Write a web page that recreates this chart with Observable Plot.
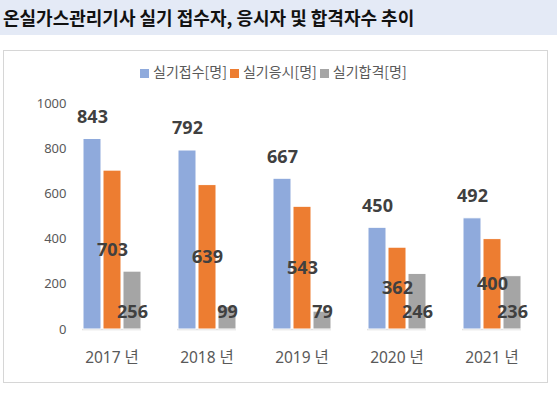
<!DOCTYPE html>
<html><head><meta charset="utf-8">
<script src="https://cdn.jsdelivr.net/npm/d3@7"></script>
<script src="https://cdn.jsdelivr.net/npm/@observablehq/plot@0.6"></script>
<style>
html,body{margin:0;padding:0;background:#fff;}
#page{position:relative;width:557px;height:394px;overflow:hidden;font-family:"Noto Sans","Noto Sans CJK KR",sans-serif;}
#banner{position:absolute;left:0;top:0;width:557px;height:35px;background:#e4eaf6;}
#title{position:absolute;left:3px;top:5px;font-family:"Noto Sans CJK KR",sans-serif;font-weight:bold;font-size:18px;color:#111;line-height:24px;white-space:nowrap;}
#box{position:absolute;left:3px;top:50px;width:545px;height:333px;border:1.5px solid #d6d6d6;box-sizing:border-box;}
#chart{position:absolute;left:0;top:35px;}
#legend{position:absolute;left:140px;top:61px;display:flex;align-items:center;font-family:"Noto Sans CJK KR",sans-serif;font-size:14px;color:#595959;white-space:nowrap;}
#legend .it{display:flex;align-items:center;margin-right:3px;}
#legend .sw{width:9px;height:9px;margin-right:4px;margin-top:4px;}
</style></head>
<body><div id="page">
<div id="banner"></div>
<div id="title"></div>
<div id="box"></div>
<div id="chart"></div>
<div id="legend"></div>
</div>
<script>
const title = "온실가스관리기사 실기 접수자, 응시자 및 합격자수 추이";
const years = ["2017 년","2018 년","2019 년","2020 년","2021 년"];
const series = ["실기접수[명]","실기응시[명]","실기합격[명]"];
const colors = ["#8faadc","#ed7d31","#a5a5a5"];
const applied = [843,792,667,450,492];
const tested = [703,639,543,362,400];
const passed = [256,99,79,246,236];
const yTicks = [0,200,400,600,800,1000];

document.getElementById("title").textContent = title;

const rows = [];
years.forEach((y,i)=>{
  [applied,tested,passed].forEach((arr,j)=>rows.push({year:y, series:series[j], value:arr[i], k:j}));
});

const lg = document.getElementById("legend");
series.forEach((s,i)=>{
  const it = document.createElement("div"); it.className="it";
  const sw = document.createElement("div"); sw.className="sw"; sw.style.background=colors[i];
  const t = document.createElement("span"); t.textContent=s;
  it.appendChild(sw); it.appendChild(t); lg.appendChild(it);
});

const labelStyle = {fontSize:18, fontWeight:"bold", fill:"#404040", fontFamily:"Noto Sans, sans-serif"};

const plot = Plot.plot({
  width:557, height:359,
  marginLeft:63, marginRight:17, marginTop:68, marginBottom:65,
  style:{fontFamily:"Noto Sans, Noto Sans CJK KR, sans-serif", background:"transparent"},
  fx:{domain:years, paddingInner:0.38, paddingOuter:0.19, label:null},
  x:{domain:series, paddingInner:0.12, paddingOuter:0, axis:null},
  y:{domain:[0,1000], label:null},
  color:{domain:series, range:colors},
  marks:[
    Plot.axisY({ticks:yTicks, tickFormat:d=>String(d), tickSize:0, tickPadding:16, fontSize:13, color:"#595959", label:null}),
    Plot.axisFx({anchor:"bottom", tickSize:0, tickPadding:22, fontSize:15.5, color:"#595959", label:null}),
    Plot.ruleY([0], {stroke:"#d9d9d9", strokeWidth:1.5}),
    Plot.barY(rows, {fx:"year", x:"series", y:"value", fill:"series", stroke:"white", strokeWidth:1}),
    Plot.text(rows.filter(d=>d.k===0), {fx:"year", x:"series", y:"value", text:"value", dy:-22, ...labelStyle}),
    Plot.text(rows.filter(d=>d.k===1), {fx:"year", x:"series", y:d=>d.value/2, text:"value", ...labelStyle}),
    Plot.text(rows.filter(d=>d.k===2), {fx:"year", x:"series", y:0, text:"value", dy:-17, ...labelStyle})
  ]
});
document.getElementById("chart").appendChild(plot);
</script>
</body></html>
